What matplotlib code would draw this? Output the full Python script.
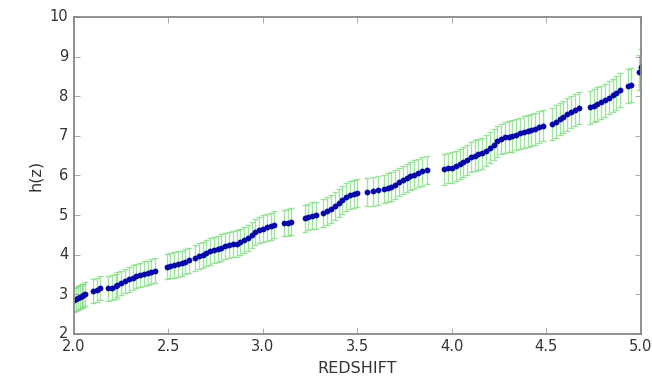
import matplotlib
matplotlib.use('Agg')
import matplotlib.pyplot as plt

plt.style.use('classic')

# redshift samples and reconstructed h(z)
z = [2.00, 2.01, 2.02, 2.03, 2.04, 2.05, 2.06,
     2.10, 2.12, 2.14,
     2.18, 2.20, 2.22,
     2.23, 2.25, 2.27, 2.29, 2.31, 2.33, 2.35, 2.37, 2.39, 2.41, 2.43,
     2.49, 2.51, 2.53, 2.55, 2.57, 2.59, 2.61,
     2.64, 2.66, 2.68, 2.70, 2.72, 2.74, 2.76, 2.78, 2.80, 2.82, 2.84, 2.86, 2.88, 2.90, 2.92, 2.94, 2.96, 2.98,
     3.00, 3.02, 3.04, 3.06, 3.11, 3.13, 3.15, 3.22, 3.24, 3.26, 3.28,
     3.32, 3.34, 3.36, 3.38, 3.40, 3.42, 3.44, 3.46, 3.48, 3.50,
     3.55, 3.58, 3.61,
     3.64, 3.66, 3.68, 3.70, 3.72, 3.74, 3.76, 3.78, 3.80, 3.82, 3.84, 3.87,
     3.96, 3.98, 4.00, 4.02, 4.04, 4.06, 4.08, 4.10,
     4.12, 4.14, 4.16, 4.18, 4.20, 4.22, 4.24, 4.26, 4.28, 4.30,
     4.32, 4.34, 4.36, 4.38, 4.40, 4.42, 4.44, 4.46, 4.48,
     4.53, 4.55, 4.57, 4.59, 4.61, 4.63, 4.65, 4.67,
     4.73, 4.75, 4.77, 4.79, 4.81, 4.83, 4.85, 4.87, 4.89,
     4.93, 4.95,
     4.99, 5.00]
hz = [2.86, 2.88, 2.90, 2.93, 2.95, 2.97, 3.00,
      3.08, 3.11, 3.15,
      3.15, 3.17, 3.20,
      3.24, 3.28, 3.33, 3.38, 3.42, 3.46, 3.49, 3.52, 3.54, 3.57, 3.60,
      3.70, 3.72, 3.74, 3.76, 3.78, 3.82, 3.86,
      3.92, 3.96, 4.00, 4.05, 4.08, 4.12, 4.15, 4.18, 4.21, 4.24, 4.26, 4.28, 4.32, 4.37, 4.43, 4.50, 4.57, 4.62,
      4.66, 4.69, 4.72, 4.75, 4.80, 4.81, 4.83, 4.92, 4.95, 4.98, 5.00,
      5.05, 5.10, 5.15, 5.22, 5.30, 5.38, 5.45, 5.50, 5.54, 5.56,
      5.58, 5.60, 5.62,
      5.66, 5.69, 5.72, 5.77, 5.83, 5.88, 5.93, 5.98, 6.02, 6.06, 6.10, 6.14,
      6.15, 6.18, 6.20, 6.24, 6.28, 6.33, 6.40, 6.47,
      6.50, 6.53, 6.56, 6.62, 6.70, 6.78, 6.86, 6.92, 6.96, 6.98,
      7.00, 7.03, 7.06, 7.09, 7.12, 7.15, 7.18, 7.22, 7.26,
      7.30, 7.36, 7.42, 7.48, 7.54, 7.60, 7.65, 7.70,
      7.72, 7.76, 7.80, 7.85, 7.90, 7.96, 8.02, 8.08, 8.16,
      8.25, 8.29,
      8.60, 8.74]
err = [0.30, 0.30, 0.30, 0.30, 0.30, 0.30, 0.30,
       0.30, 0.30, 0.30,
       0.31, 0.31, 0.31,
       0.31, 0.31, 0.31, 0.31, 0.31, 0.31, 0.31, 0.31, 0.31, 0.31, 0.31,
       0.32, 0.32, 0.32, 0.32, 0.32, 0.32, 0.32,
       0.33, 0.33, 0.33, 0.33, 0.33, 0.33, 0.33, 0.33, 0.33, 0.33, 0.33, 0.33, 0.33, 0.33, 0.33, 0.33, 0.33, 0.33,
       0.34, 0.34, 0.34, 0.34, 0.34, 0.34, 0.34, 0.34, 0.34, 0.34, 0.34,
       0.35, 0.35, 0.35, 0.35, 0.35, 0.35, 0.35, 0.35, 0.35, 0.35,
       0.36, 0.36, 0.36,
       0.36, 0.36, 0.36, 0.36, 0.36, 0.36, 0.36, 0.36, 0.36, 0.36, 0.36, 0.36,
       0.38, 0.38, 0.38, 0.38, 0.38, 0.38, 0.38, 0.38,
       0.39, 0.39, 0.39, 0.39, 0.39, 0.39, 0.39, 0.39, 0.39, 0.39,
       0.40, 0.40, 0.40, 0.40, 0.40, 0.40, 0.40, 0.40, 0.40,
       0.41, 0.41, 0.41, 0.41, 0.41, 0.41, 0.41, 0.41,
       0.42, 0.42, 0.42, 0.42, 0.42, 0.42, 0.42, 0.42, 0.42,
       0.43, 0.43,
       0.44, 0.44]

fig = plt.figure(figsize=(6.52, 3.86), dpi=100, facecolor='white')
ax = fig.add_axes([0.1135, 0.135, 0.8695, 0.821])

ax.errorbar(z, hz, yerr=err, fmt='none', ecolor='#7fdc7f', elinewidth=1.0,
            capsize=2.5, capthick=1.0, alpha=0.75)
ax.plot(z, hz, 'o', color='#0808a8', markersize=4.2, markeredgewidth=0)

ax.set_xlim(2.0, 5.0)
ax.set_ylim(2, 10)
ax.set_xticks([2.0, 2.5, 3.0, 3.5, 4.0, 4.5, 5.0])
ax.set_yticks([2, 3, 4, 5, 6, 7, 8, 9, 10])
ax.set_xlabel('REDSHIFT', fontsize=11.5, color='#333333')
ax.set_ylabel('h(z)', fontsize=11.5, color='#333333')
for s in ax.spines.values():
    s.set_color('#888888')
    s.set_linewidth(1.3)
ax.tick_params(colors='#888888', labelcolor='#333333', labelsize=10.5)

plt.savefig('out.png', dpi=100, facecolor='white')
